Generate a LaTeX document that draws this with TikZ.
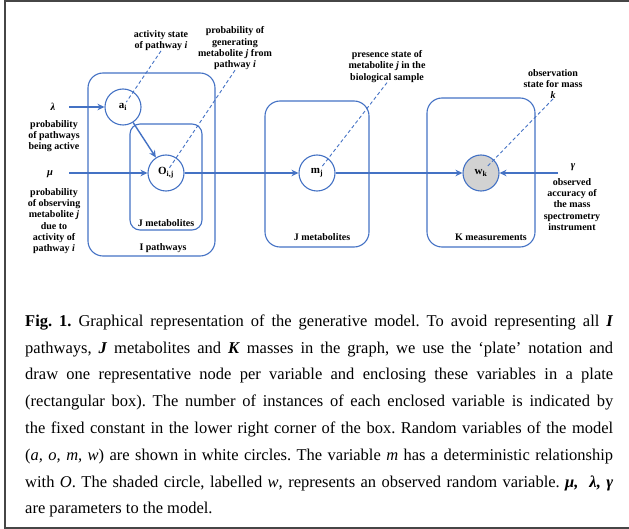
\documentclass[tikz,border=0pt]{standalone}
\usepackage{fontspec}
\setmainfont{Liberation Serif}
\usetikzlibrary{arrows.meta}

\definecolor{plateblue}{RGB}{68,114,196}
\definecolor{framegray}{RGB}{70,70,70}
\definecolor{obsgray}{RGB}{210,210,210}

\tikzset{
  plate/.style={draw=plateblue, line width=1.1pt, rounded corners=15pt},
  var/.style={circle, draw=plateblue, line width=1.1pt, minimum size=36pt, inner sep=0pt,
    font=\fontsize{11}{12}\selectfont\bfseries},
  obsvar/.style={var, fill=obsgray},
  edge/.style={draw=plateblue, line width=1.4pt, -{Stealth[length=7pt,width=6.5pt]}},
  note/.style={draw=plateblue, line width=0.9pt, dash pattern=on 3.5pt off 2.5pt},
  lbl/.style={align=center, inner sep=0pt, font=\fontsize{10}{11.3}\selectfont\bfseries},
  param/.style={inner sep=0pt, font=\fontsize{10.5}{11.3}\selectfont\bfseries\itshape},
}

\begin{document}
\begin{tikzpicture}[x=1pt, y=-1pt]
    \useasboundingbox (0,0) rectangle (629,529);
    % Frame
    \draw [framegray, line width=1.6pt] (629,0.8) -- (4.8,0.8) -- (4.8,528) -- (629,528);

    % Plates
    \draw [plate] (88,73) rectangle (215,256);
    \draw [plate, rounded corners=10pt] (130,124) rectangle (202,230);
    \draw [plate] (265,101) rectangle (369,247);
    \draw [plate] (427,98) rectangle (535,247);

    % Variables
    \node [var] (a) at (123,107) {a\textsubscript{i}};
    \node [var] (o) at (166,173) {O\textsubscript{i,j}};
    \node [var] (m) at (317,173) {m\textsubscript{j}};
    \node [obsvar] (w) at (481,173) {w\textsubscript{k}};

    % Parameters
    \node [param] (lambda) at (53,107) {λ};
    \node [param] (mu) at (50,174) {μ};
    \node [param] (gamma) at (573,167) {γ};
    \coordinate (lamin) at (69,107);
    \coordinate (muin) at (69,173);
    \coordinate (gamin) at (558,173);

    % Arrows
    \draw [edge] (lamin) -- (a);
    \draw [edge] (muin) -- (o);
    \draw [edge] (a) -- (o);
    \draw [edge] (o) -- (m);
    \draw [edge] (m) -- (w);
    \draw [edge] (gamin) -- (w);

    % Parameter texts
    \node [lbl] (lambdatxt) at (54,136) {probability\\of pathways\\being active};
    \node [lbl] (mutxt) at (54,221) {probability\\of observing\\metabolite \textit{j}\\due to\\activity of\\pathway \textit{i}};
    \node [lbl] (gammatxt) at (572,204.5) {observed\\accuracy of\\the mass\\spectrometry\\instrument};

    % Annotations
    \node [lbl] (anna) at (161,40.5) {activity state\\of pathway \textit{i}};
    \node [lbl] (anno) at (235,48.5) {probability of\\generating\\metabolite \textit{j} from\\pathway \textit{i}};
    \node [lbl] (annm) at (387,66.5) {presence state of\\metabolite \textit{j} in the\\biological sample};
    \node [lbl] (annw) at (553,84) {observation\\state for mass\\\textit{k}};
    \draw [note, shorten >=6pt] (anna.south) -- (a.center);
    \draw [note, shorten >=6pt] (anno.south) -- (o.center);
    \draw [note, shorten >=8pt] (annm.south) -- (m.center);
    \draw [note, shorten >=8pt] (annw.south) -- (w.center);

    % Plate labels
    \node [lbl] (platei) at (163,248) {I pathways};
    \node [lbl] (platejin) at (166,223) {J metabolites};
    \node [lbl] (platej) at (322,237) {J metabolites};
    \node [lbl] (platek) at (491,237) {K measurements};

    % Caption
    \node [anchor=north west, inner sep=0pt, text width=588pt, align=justify,
      font=\fontsize{16.5}{26.8}\selectfont\frenchspacing] (caption) at (25,314.5)
      {\textbf{Fig. 1.} Graphical representation of the generative model. To avoid representing all \textbf{\textit{I}}\linebreak
      pathways, \textbf{\textit{J}} metabolites and \textbf{\textit{K}} masses in the graph, we use the ‘plate’ notation and\linebreak
      draw one representative node per variable and enclosing these variables in a plate\linebreak
      (rectangular box). The number of instances of each enclosed variable is indicated by\linebreak
      the fixed constant in the lower right corner of the box. Random variables of the model\linebreak
      (\textit{a, o, m, w}) are shown in white circles. The variable \textit{m} has a deterministic relationship\linebreak
      with \textit{O}. The shaded circle, labelled \textit{w}, represents an observed random variable. \textbf{\textit{μ,\ \ λ, γ}}\linebreak
      are parameters to the model.};
\end{tikzpicture}
\end{document}
